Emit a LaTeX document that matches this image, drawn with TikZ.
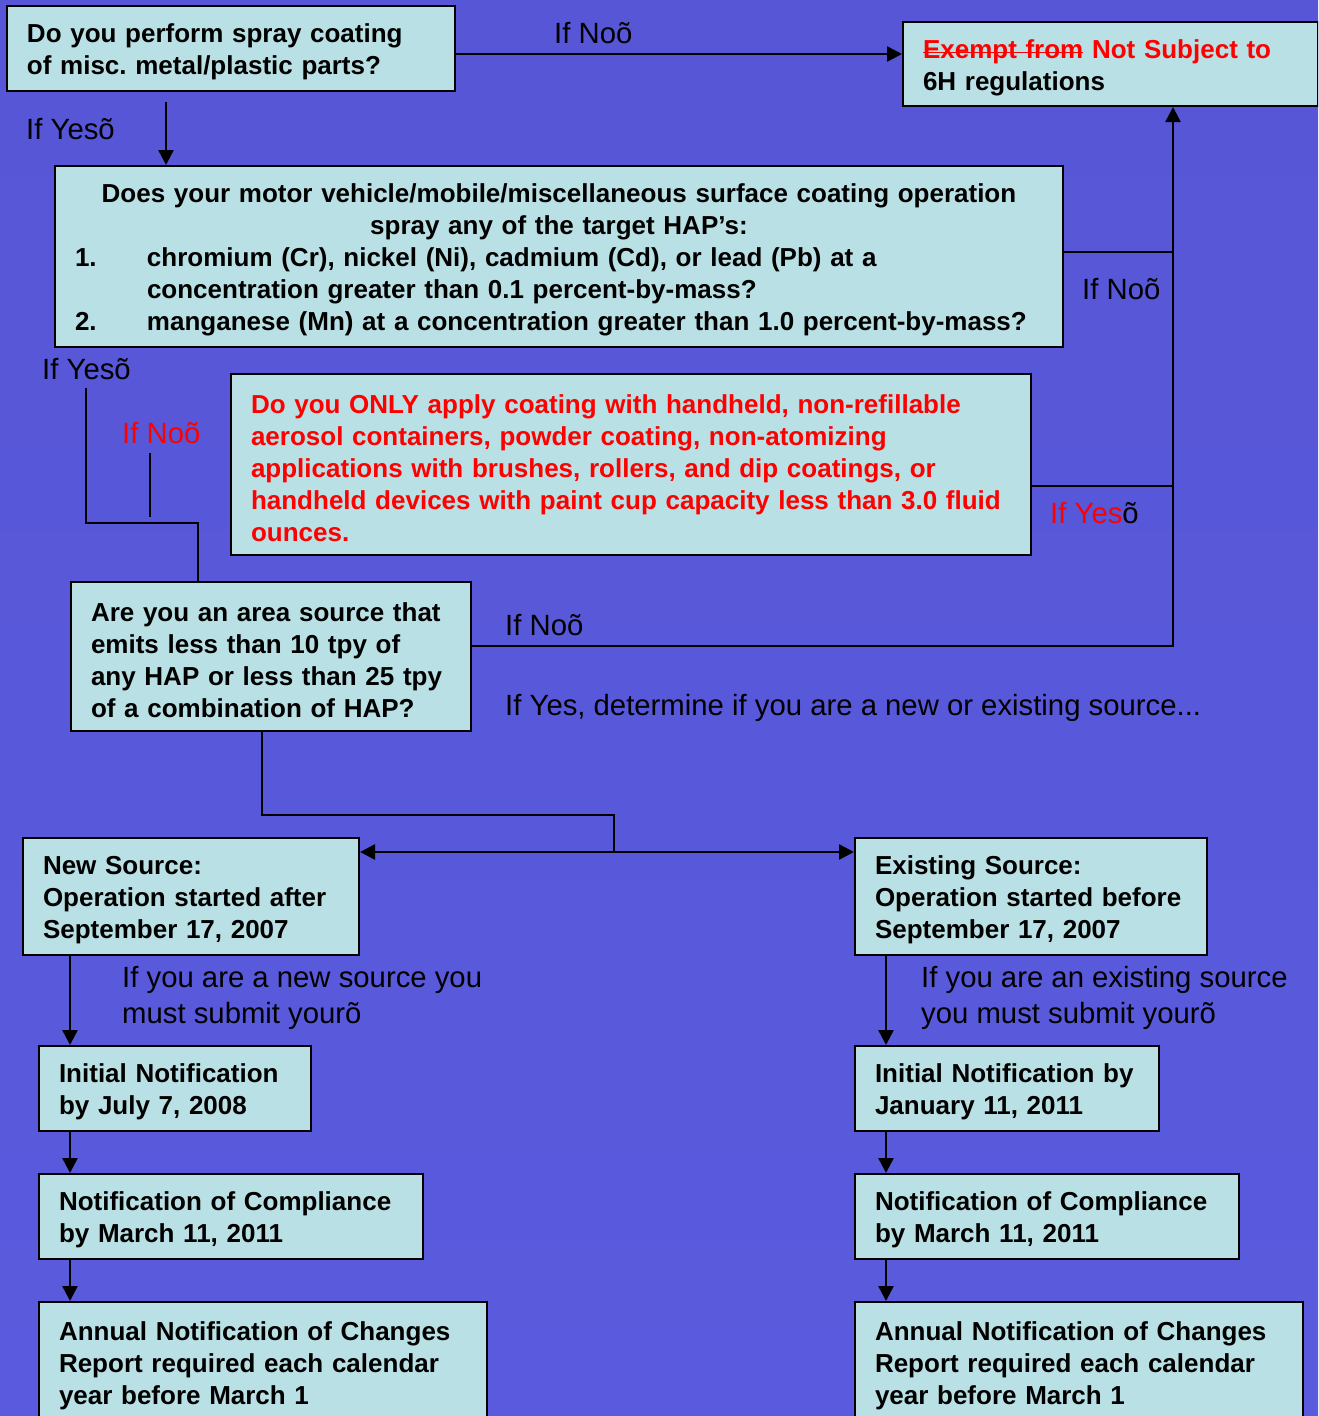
\documentclass[tikz,border=0pt]{standalone}
\usepackage{fontspec}
\setmainfont{Liberation Sans}
\usetikzlibrary{arrows.meta}

\definecolor{boxfill}{RGB}{185,224,228}
\definecolor{bgtop}{RGB}{86,86,214}
\definecolor{bgmid}{RGB}{102,102,255}
\definecolor{bgbot}{RGB}{90,90,222}

\newcommand{\boxfont}{\fontsize{26}{32}\selectfont\bfseries}
\newcommand{\lblfont}{\fontsize{29.3}{36}\selectfont}
% struck-out text, line drawn through the word
\newsavebox{\strikebox}
\newcommand{\strikeword}[1]{\sbox\strikebox{#1}\rlap{\rule[5pt]{\wd\strikebox}{1.6pt}}\usebox\strikebox}
\frenchspacing

\begin{document}
\begin{tikzpicture}[x=1pt, y=1pt,
  box/.style={draw=black, line width=2pt, fill=boxfill, anchor=north west,
    align=left, inner xsep=20pt, inner ysep=0pt, font=\boxfont,
    execute at begin node={\hyphenpenalty=10000\exhyphenpenalty=10000\rule{0pt}{26pt}}},
  lbl/.style={anchor=base west, inner sep=0pt, font=\lblfont},
  conn/.style={draw=black, line width=2.5pt},
  arr/.style={conn, -{Triangle[length=15pt, width=15pt]}}]

% --- page and background ---
\useasboundingbox (0,0) rectangle (1318,-1416);
\clip (0,0) rectangle (1318,-1416);
\shade[top color=bgtop, middle color=bgmid, bottom color=bgbot] (0,0) rectangle (1318,-1416);

% --- question boxes ---
\node[box, text width=408pt, minimum height=85pt] (q1) at (6,-5)
  {Do you perform spray coating\\of misc. metal/plastic parts?};
\node[box, text width=375pt, minimum height=84pt] (exempt) at (902,-21)
  {\textcolor{red}{\strikeword{Exempt from} Not Subject to}\\6H regulations};
\node[box, text width=968pt, minimum height=181pt] (q2) at (54,-165)
  {\makebox[\hsize][c]{Does your motor vehicle/mobile/miscellaneous surface coating operation}\\
   \makebox[\hsize][c]{spray any of the target HAP’s:}\\
   \makebox[72pt][l]{1.}chromium (Cr), nickel (Ni), cadmium (Cd), or lead (Pb) at a\\
   \hspace*{72pt}concentration greater than 0.1 percent-by-mass?\\
   \makebox[72pt][l]{2.}manganese (Mn) at a concentration greater than 1.0 percent-by-mass?};
\node[box, text width=760pt, minimum height=181pt, text=red] (q3) at (230,-373)
  {Do you ONLY apply coating with handheld, non-refillable\\
   aerosol containers, powder coating, non-atomizing\\
   applications with brushes, rollers, and dip coatings, or\\
   handheld devices with paint cup capacity less than 3.0 fluid\\
   ounces.};
\node[box, text width=360pt, minimum height=149pt] (q4) at (70,-581)
  {Are you an area source that\\emits less than 10 tpy of\\any HAP or less than 25 tpy\\of a combination of HAP?};

% --- source boxes ---
\node[box, text width=296pt, minimum height=117pt] (newsrc) at (22,-837)
  {New Source:\\Operation started after\\September 17, 2007};
\node[box, text width=312pt, minimum height=117pt] (exist) at (854,-837)
  {Existing Source:\\Operation started before\\September 17, 2007};

% --- a column of notices under each source box, with its arrows ---
\newcommand{\noticecol}[5]{%
  % x of column, name prefix, source node, initial notification text, its width
  \node[box, text width=#5, minimum height=85pt] (#2init) at (#1,-1045) {#4};
  \node[box, text width=344pt, minimum height=85pt] (#2comp) at (#1,-1173)
    {Notification of Compliance\\by March 11, 2011};
  \node[box, text width=408pt, minimum height=120pt] (#2ann) at (#1,-1301)
    {Annual Notification of Changes\\Report required each calendar\\year before March 1};
  \coordinate (#2x) at ([xshift=32pt]#2init.north west);
  \draw[arr] (#3.south -| #2x) -- (#2x);
  \draw[arr] (#2init.south -| #2x) -- (#2comp.north -| #2x);
  \draw[arr] (#2comp.south -| #2x) -- (#2ann.north -| #2x);
}

\noticecol{38}{new}{newsrc}{Initial Notification\\by July 7, 2008}{232pt}
\noticecol{854}{old}{exist}{Initial Notification by\\January 11, 2011}{264pt}

% --- labels ---
\node[lbl] (noA) at (554,-43) {If Noõ};
\node[lbl] (yesA) at (26,-139) {If Yesõ};
\node[lbl] (noB) at (1082,-299) {If Noõ};
\node[lbl] (yesB) at (42,-379) {If Yesõ};
\node[lbl, text=red] (noC) at (122,-443) {If Noõ};
\node[lbl] (yesC) at (1050,-523) {\textcolor{red}{If Yes}õ};
\node[lbl] (noD) at (505,-635) {If Noõ};
\node[lbl] (yesD) at (505,-715) {If Yes, determine if you are a new or existing source...};
\node[lbl, align=left] (newmsg) at (122,-1023) {If you are a new source you\\must submit yourõ};
\node[lbl, align=left] (oldmsg) at (921,-1023) {If you are an existing source\\you must submit yourõ};

% --- connectors ---
% q1 -> exempt
\draw[arr] ([yshift=-5.5pt]q1.east) -- ([yshift=-5.5pt]q1.east -| exempt.west);
% q1 -> q2
\coordinate (yesAtop) at ([shift={(160pt,-10pt)}]q1.south west);
\draw[arr] (yesAtop) -- (yesAtop |- q2.north);
% right rail up into exempt
\coordinate (rail) at ([xshift=271pt]exempt.south west);
\draw[arr] ([yshift=10.5pt]q4.east) -| (rail);
\draw[conn] ([yshift=4.5pt]q2.east) -- ([yshift=4.5pt]q2.east -| rail);
\draw[conn] ([yshift=-21.5pt]q3.east) -- ([yshift=-21.5pt]q3.east -| rail);
% left path down to q4
\coordinate (yesBtop) at (86,-388);
\coordinate (q4in) at ([xshift=128pt]q4.north west);
\draw[conn] (yesBtop) |- ([yshift=58pt]q4in) -- (q4in);
% red If No stub
\coordinate (noCtop) at (150,-453);
\coordinate (noCbot) at (150,-517);
\draw[conn] (noCtop) -- (noCbot);
% q4 -> new / existing
\coordinate (split) at (614,-852);
\draw[conn] ([xshift=192pt]q4.south west) |- ([yshift=37pt]split) -- (split);
\draw[arr] (split) -- (split -| newsrc.east);
\draw[arr] (split) -- (split -| exist.west);

\end{tikzpicture}
\end{document}
